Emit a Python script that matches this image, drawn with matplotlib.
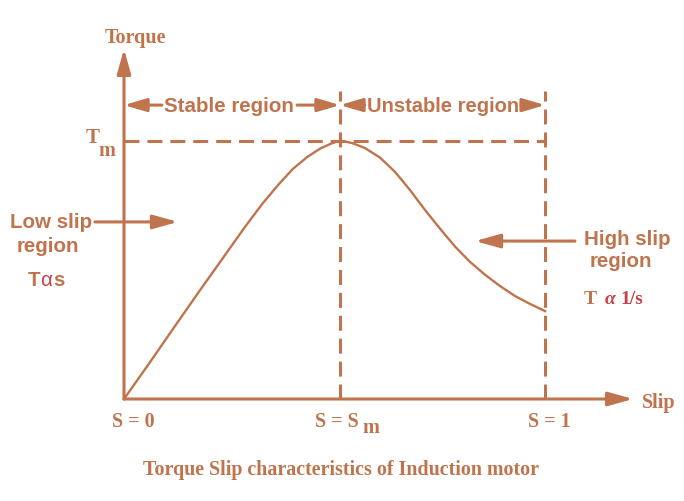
import numpy as np
import matplotlib
matplotlib.use('Agg')
import matplotlib.pyplot as plt

# torque-slip curve (slip 0..1, torque relative to Tm)
slip = [0.0, 0.062, 0.121, 0.181, 0.240, 0.287, 0.328, 0.366, 0.401, 0.435,
        0.466, 0.492, 0.513, 0.542, 0.572, 0.608, 0.644, 0.679, 0.715, 0.751,
        0.786, 0.822, 0.858, 0.893, 0.929, 0.964, 1.0]
torque = [0.0, 0.143, 0.282, 0.422, 0.557, 0.665, 0.754, 0.828, 0.890, 0.936,
          0.969, 0.988, 1.0, 0.990, 0.971, 0.934, 0.878, 0.809, 0.731, 0.658,
          0.590, 0.530, 0.480, 0.437, 0.398, 0.368, 0.340]
s_m = 0.513
t_m = 1.0

col = '#c0744e'
red = '#c8404a'
serif = ['Liberation Serif', 'DejaVu Serif']
sans = ['Liberation Sans', 'DejaVu Sans']
fs_sans = 14.8
fs_serif = 14.5

fig = plt.figure(figsize=(6.84, 5.02), dpi=100)
ax = fig.add_axes([0, 0, 1, 1])
ax.set_xlim(-0.2945, 1.330)
ax.set_ylim(-0.3946, 1.5474)
ax.axis('off')

lw = 2.2
arr = dict(arrowstyle='-|>,head_length=1.5,head_width=0.42', color=col, lw=lw,
           shrinkA=0, shrinkB=0, mutation_scale=10)
arr2 = dict(arr, arrowstyle='-|>,head_length=1.35,head_width=0.4')

def txt(x, y, s, color=col, fam=sans, size=fs_sans, ha='center', **kw):
    ax.text(x, y, s, color=color, fontsize=size, fontweight='bold',
            family=fam, ha=ha, va='center', **kw)

# axes with arrows
ax.annotate('', xy=(0, 1.354), xytext=(0, 0), arrowprops=arr)
ax.annotate('', xy=(1.209, 0), xytext=(0, 0), arrowprops=arr)
txt(0.026, 1.400, 'Torque', fam=serif, size=fs_serif)
txt(1.230, -0.012, 'Slip', fam=serif, size=fs_serif, ha='left')

# dashed guides
dash = (0, (4.9, 2.6))
ax.plot([0, 1.0], [t_m, t_m], color=col, lw=lw, ls=dash)
ax.plot([s_m, s_m], [0, 1.191], color=col, lw=lw, ls=dash)
ax.plot([1.0, 1.0], [0, 1.191], color=col, lw=lw, ls=dash)

# curve
ax.plot(slip, torque, color=col, lw=1.7, solid_joinstyle='round')

# region dimension arrows
yr = 1.137
ax.annotate('', xy=(0, yr), xytext=(0.090, yr), arrowprops=arr2)
ax.annotate('', xy=(s_m, yr), xytext=(0.411, yr), arrowprops=arr2)
txt(0.249, yr, 'Stable region')
ax.annotate('', xy=(s_m, yr), xytext=(0.572, yr), arrowprops=arr2)
ax.annotate('', xy=(1.0, yr), xytext=(0.943, yr), arrowprops=arr2)
txt(0.758, yr, 'Unstable region', size=14.5)

# Tm label
txt(-0.074, 1.014, 'T', fam=serif, size=fs_serif + 0.5)
txt(-0.040, 0.963, 'm', fam=serif, size=fs_serif)

# low slip region
ax.annotate('', xy=(0.128, 0.685), xytext=(-0.069, 0.685), arrowprops=arr)
txt(-0.173, 0.685, 'Low slip')
txt(-0.181, 0.592, 'region')
txt(-0.214, 0.464, 'T')
ax.text(-0.186, 0.464, 'α', color=red, fontsize=fs_sans, family=sans,
        ha='center', va='center')
txt(-0.154, 0.464, 's')

# high slip region
ax.annotate('', xy=(0.834, 0.611), xytext=(1.071, 0.611), arrowprops=arr)
txt(1.195, 0.619, 'High slip')
txt(1.181, 0.534, 'region')
txt(1.107, 0.387, 'T', fam=serif, size=fs_serif - 0.5)
txt(1.154, 0.387, 'α', color=red, fam=serif, size=fs_serif - 0.5, style='italic')
txt(1.178, 0.387, '1/s', color=red, fam=serif, size=fs_serif - 0.5, ha='left')

# slip tick labels
txt(0.021, -0.085, 'S = 0', fam=serif, size=fs_serif)
txt(0.454, -0.085, 'S = S', fam=serif, size=fs_serif, ha='left')
txt(0.586, -0.108, 'm', fam=serif, size=fs_serif)
txt(1.010, -0.085, 'S = 1', fam=serif, size=fs_serif)

# caption
txt(0.515, -0.271, 'Torque Slip characteristics of Induction motor',
    fam=serif, size=14.4)

plt.savefig('out.png', dpi=100)
